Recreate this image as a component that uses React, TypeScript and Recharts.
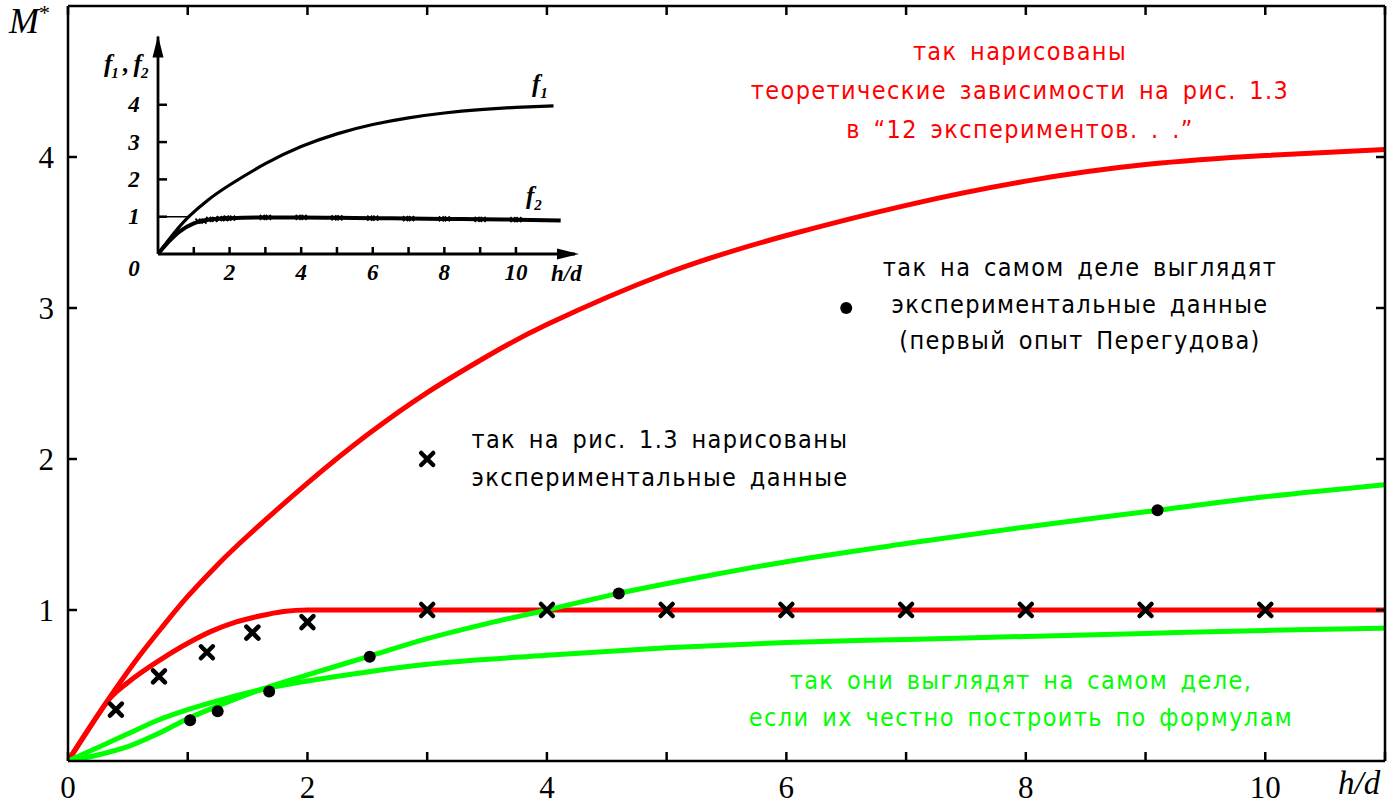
import React from 'react';
import { ComposedChart, LineChart, Line, Scatter, XAxis, YAxis, ReferenceDot } from 'recharts';

// ---- main chart: M* against h/d ----
const xTicks = [0, 1, 2, 3, 4, 5, 6, 7, 8, 9, 10, 11];
const yTicks = [1, 2, 3, 4];
const xMax = 11;
const yMax = 5;

// red: theoretical curves as drawn in fig. 1.3
const redF1 = [
  { x: 0, y: 0 }, { x: 0.2, y: 0.245 }, { x: 0.4, y: 0.48 }, { x: 0.6, y: 0.7 }, { x: 0.8, y: 0.9 },
  { x: 1, y: 1.09 }, { x: 1.25, y: 1.3 }, { x: 1.5, y: 1.49 }, { x: 2, y: 1.84 }, { x: 2.5, y: 2.16 },
  { x: 3, y: 2.44 }, { x: 3.5, y: 2.68 }, { x: 4, y: 2.89 }, { x: 5, y: 3.23 }, { x: 6, y: 3.48 },
  { x: 7, y: 3.68 }, { x: 8, y: 3.84 }, { x: 9, y: 3.95 }, { x: 10, y: 4.01 }, { x: 11, y: 4.05 },
];
const redF2 = [
  { x: 0, y: 0 }, { x: 0.2, y: 0.245 }, { x: 0.35, y: 0.415 }, { x: 0.5, y: 0.52 }, { x: 0.77, y: 0.67 },
  { x: 1, y: 0.78 }, { x: 1.2, y: 0.86 }, { x: 1.4, y: 0.92 }, { x: 1.6, y: 0.96 }, { x: 1.8, y: 0.99 },
  { x: 2, y: 1 }, { x: 3, y: 1 }, { x: 6, y: 1 }, { x: 11, y: 1 },
];

// green: the same formulas plotted honestly
const greenF1 = [
  { x: 0, y: 0 }, { x: 0.25, y: 0.04 }, { x: 0.5, y: 0.095 }, { x: 0.75, y: 0.18 }, { x: 1, y: 0.28 },
  { x: 1.3, y: 0.38 }, { x: 1.6, y: 0.47 }, { x: 2, y: 0.57 }, { x: 2.5, y: 0.69 }, { x: 3, y: 0.81 },
  { x: 3.5, y: 0.91 }, { x: 4, y: 1.0 }, { x: 4.6, y: 1.11 }, { x: 5.3, y: 1.22 }, { x: 6, y: 1.32 },
  { x: 7, y: 1.44 }, { x: 8, y: 1.55 }, { x: 9, y: 1.65 }, { x: 10, y: 1.75 }, { x: 11, y: 1.83 },
];
const greenF2 = [
  { x: 0, y: 0 }, { x: 0.25, y: 0.09 }, { x: 0.5, y: 0.18 }, { x: 0.75, y: 0.27 }, { x: 1, y: 0.34 },
  { x: 1.3, y: 0.41 }, { x: 1.6, y: 0.47 }, { x: 2, y: 0.53 }, { x: 2.5, y: 0.59 }, { x: 3, y: 0.64 },
  { x: 4, y: 0.7 }, { x: 5, y: 0.75 }, { x: 6, y: 0.785 }, { x: 7, y: 0.805 }, { x: 8, y: 0.825 },
  { x: 9, y: 0.845 }, { x: 10, y: 0.865 }, { x: 11, y: 0.88 },
];

// crosses: experimental data as drawn in fig. 1.3
const crosses = [
  { x: 0.4, y: 0.34 }, { x: 0.76, y: 0.56 }, { x: 1.16, y: 0.72 }, { x: 1.54, y: 0.85 }, { x: 2, y: 0.92 },
  { x: 3, y: 1 }, { x: 4, y: 1 }, { x: 5, y: 1 }, { x: 6, y: 1 }, { x: 7, y: 1 },
  { x: 8, y: 1 }, { x: 9, y: 1 }, { x: 10, y: 1 },
];
// dots: real experimental data (first Peregudov experiment)
const dots = [
  { x: 1.02, y: 0.27 }, { x: 1.25, y: 0.33 }, { x: 1.68, y: 0.46 }, { x: 2.52, y: 0.69 },
  { x: 4.6, y: 1.11 }, { x: 9.1, y: 1.66 },
];
// markers next to the captions
const crossKey = [{ x: 3, y: 2 }];
const dotKey = [{ x: 6.5, y: 3 }];

// ---- inset: scanned fig. 1.3 (f1, f2 against h/d) ----
const insetXTicks = [1, 2, 3, 4, 5, 6, 7, 8, 9, 10];
const insetYTicks = [0, 1, 2, 3, 4];
const insetXMax = 11.65;
const insetYMax = 5.83;
const insetF1 = [
  { x: 0, y: 0 }, { x: 0.4, y: 0.5 }, { x: 0.86, y: 1.0 }, { x: 1.4, y: 1.45 }, { x: 2, y: 1.85 },
  { x: 3, y: 2.42 }, { x: 4, y: 2.88 }, { x: 5, y: 3.22 }, { x: 6, y: 3.47 }, { x: 7, y: 3.65 },
  { x: 8, y: 3.78 }, { x: 9, y: 3.87 }, { x: 10, y: 3.93 }, { x: 11.05, y: 3.97 },
];
const insetF2 = [
  { x: 0, y: 0 }, { x: 0.3, y: 0.33 }, { x: 0.6, y: 0.6 }, { x: 1, y: 0.82 }, { x: 1.5, y: 0.93 },
  { x: 2, y: 0.96 }, { x: 3, y: 0.98 }, { x: 4, y: 0.98 }, { x: 5, y: 0.97 }, { x: 6, y: 0.96 },
  { x: 7, y: 0.95 }, { x: 8, y: 0.94 }, { x: 9, y: 0.93 }, { x: 10, y: 0.92 }, { x: 11.25, y: 0.9 },
];
const insetF2Marks = [
  { x: 1.2, y: 0.88 }, { x: 1.5, y: 0.93 }, { x: 1.8, y: 0.95 }, { x: 2, y: 0.96 }, { x: 3, y: 0.98 },
  { x: 4, y: 0.98 }, { x: 5, y: 0.97 }, { x: 6, y: 0.96 }, { x: 7, y: 0.95 }, { x: 8, y: 0.94 },
  { x: 9, y: 0.93 }, { x: 10, y: 0.92 },
];
const insetUnitLine = [{ x: 0, y: 1 }, { x: 0.86, y: 1 }];

const SANS = "'DejaVu Sans Condensed', 'DejaVu Sans', sans-serif";
const SERIF = "'Liberation Serif', 'DejaVu Serif', serif";
const RED = '#ff0000';
const GREEN = '#00ff00';

const BottomTick = (props: any) => {
  const { x, y, payload } = props;
  const v = payload.value;
  return (
    <g>
      <line x1={x} x2={x} y1={y} y2={y - 9} stroke="#000" strokeWidth={2.5} />
      {v % 2 === 0 && (
        <text x={x} y={y + 26} textAnchor="middle" dominantBaseline="central" fontFamily={SERIF} fontSize={31} fill="#000">
          {v}
        </text>
      )}
    </g>
  );
};

const TopTick = (props: any) => {
  const { x, y } = props;
  return <line x1={x} x2={x} y1={y} y2={y + 9} stroke="#000" strokeWidth={2.5} />;
};

const LeftTick = (props: any) => {
  const { x, y, payload } = props;
  return (
    <g>
      <line x1={x} x2={x + 9} y1={y} y2={y} stroke="#000" strokeWidth={2.5} />
      <text x={x - 14} y={y} textAnchor="end" dominantBaseline="central" fontFamily={SERIF} fontSize={31} fill="#000">
        {payload.value}
      </text>
    </g>
  );
};

const RightTick = (props: any) => {
  const { x, y } = props;
  return <line x1={x} x2={x - 9} y1={y} y2={y} stroke="#000" strokeWidth={2.5} />;
};

const CrossMark = (props: any) => {
  const { cx, cy } = props;
  const s = 6;
  return (
    <path
      d={`M${cx - s},${cy - s}L${cx + s},${cy + s}M${cx - s},${cy + s}L${cx + s},${cy - s}`}
      stroke="#000"
      strokeWidth={4.5}
      strokeLinecap="round"
      fill="none"
    />
  );
};

const DotMark = (props: any) => <circle cx={props.cx} cy={props.cy} r={6} fill="#000" />;

// inset pieces
const INSET_FONT = { fontFamily: SERIF, fontStyle: 'italic' as const, fontWeight: 700 };

const InsetXTick = (props: any) => {
  const { x, y, payload } = props;
  const v = payload.value;
  return (
    <g>
      <line x1={x} x2={x} y1={y} y2={y - 7} stroke="#000" strokeWidth={2.5} />
      {v % 2 === 0 && (
        <text x={x} y={y + 18} textAnchor="middle" dominantBaseline="central" fontSize={23} fill="#000" {...INSET_FONT}>
          {v}
        </text>
      )}
    </g>
  );
};

const InsetYTick = (props: any) => {
  const { x, y, payload } = props;
  const v = payload.value;
  return (
    <g>
      {v > 0 && <line x1={x} x2={x + 9} y1={y} y2={y} stroke="#000" strokeWidth={2.5} />}
      <text x={x - 24} y={v > 0 ? y : y + 14} textAnchor="middle" dominantBaseline="central" fontSize={23} fill="#000" {...INSET_FONT}>
        {v}
      </text>
    </g>
  );
};

const SmallCross = (props: any) => {
  const { cx, cy } = props;
  const s = 2.5;
  const d = [-3, 3]
    .map((o) => `M${cx + o - s},${cy - s}L${cx + o + s},${cy + s}M${cx + o - s},${cy + s}L${cx + o + s},${cy - s}`)
    .join('');
  return <path d={d} stroke="#000" strokeWidth={1.8} fill="none" />;
};

const ArrowRight = (props: any) => {
  const { cx, cy } = props;
  return <path d={`M${cx + 4},${cy}L${cx - 18},${cy - 5.5}L${cx - 18},${cy + 5.5}Z`} fill="#000" />;
};

const ArrowUp = (props: any) => {
  const { cx, cy } = props;
  return <path d={`M${cx},${cy - 1}L${cx - 5.5},${cy + 21}L${cx + 5.5},${cy + 21}Z`} fill="#000" />;
};

const Note = ({ lines, cx, top, color, lh }: { lines: string[]; cx: number; top: number; color: string; lh: number }) => (
  <div
    style={{
      position: 'absolute',
      left: cx - 350,
      width: 700,
      top,
      textAlign: 'center',
      color,
      fontFamily: SANS,
      fontStretch: 'condensed',
      fontSize: 25,
      letterSpacing: 1.4,
      wordSpacing: 4,
      lineHeight: `${lh}px`,
      whiteSpace: 'nowrap',
    }}
  >
    {lines.map((l, i) => (
      <div key={i}>{l}</div>
    ))}
  </div>
);

const sub = { fontSize: 15, verticalAlign: '-6px' };
const insetLabel = { position: 'absolute' as const, fontSize: 25, fontFamily: SERIF, fontStyle: 'italic' as const, fontWeight: 700 };

export default function App() {
  return (
    <div style={{ position: 'absolute', left: 0, top: 0, width: 1399, height: 807, background: '#fff', overflow: 'hidden' }}>
      <ComposedChart width={1399} height={807} margin={{ top: 5, right: 13, bottom: 0, left: 0 }}>
        <XAxis
          dataKey="x"
          type="number"
          domain={[0, xMax]}
          ticks={xTicks}
          allowDataOverflow
          height={46}
          tickSize={0}
          tickMargin={0}
          tickLine={false}
          axisLine={{ stroke: '#000', strokeWidth: 2.5 }}
          tick={<BottomTick />}
          interval={0}
        />
        <XAxis
          xAxisId="top"
          orientation="top"
          dataKey="x"
          type="number"
          domain={[0, xMax]}
          ticks={xTicks}
          allowDataOverflow
          height={1}
          tickSize={0}
          tickMargin={0}
          tickLine={false}
          axisLine={{ stroke: '#000', strokeWidth: 2.5 }}
          tick={<TopTick />}
          interval={0}
        />
        <YAxis
          dataKey="y"
          type="number"
          domain={[0, yMax]}
          ticks={yTicks}
          allowDataOverflow
          width={68}
          tickSize={0}
          tickMargin={0}
          tickLine={false}
          axisLine={{ stroke: '#000', strokeWidth: 2.5 }}
          tick={<LeftTick />}
          interval={0}
        />
        <YAxis
          yAxisId="right"
          orientation="right"
          type="number"
          domain={[0, yMax]}
          ticks={yTicks}
          allowDataOverflow
          width={1}
          tickSize={0}
          tickMargin={0}
          tickLine={false}
          axisLine={{ stroke: '#000', strokeWidth: 2.5 }}
          tick={<RightTick />}
          interval={0}
        />
        <Line data={redF1} dataKey="y" type="natural" stroke={RED} strokeWidth={5} dot={false} isAnimationActive={false} />
        <Line data={redF2} dataKey="y" type="monotone" stroke={RED} strokeWidth={5} dot={false} isAnimationActive={false} />
        <Line data={greenF1} dataKey="y" type="monotone" stroke={GREEN} strokeWidth={5} dot={false} isAnimationActive={false} />
        <Line data={greenF2} dataKey="y" type="monotone" stroke={GREEN} strokeWidth={5} dot={false} isAnimationActive={false} />
        <Scatter data={dots} shape={DotMark} isAnimationActive={false} />
        <Scatter data={dotKey} shape={DotMark} isAnimationActive={false} />
        <Scatter data={crosses} shape={CrossMark} isAnimationActive={false} />
        <Scatter data={crossKey} shape={CrossMark} isAnimationActive={false} />
      </ComposedChart>

      {/* inset copied from fig. 1.3 */}
      <div style={{ position: 'absolute', left: 100, top: 20 }}>
        <LineChart width={500} height={290} margin={{ top: 16.5, right: 25, bottom: 55, left: 57 }}>
          <XAxis
            dataKey="x"
            type="number"
            domain={[0, insetXMax]}
            ticks={insetXTicks}
            allowDataOverflow
            height={1}
            tickSize={0}
            tickMargin={0}
            tickLine={false}
            axisLine={{ stroke: '#000', strokeWidth: 2.8 }}
            tick={<InsetXTick />}
            interval={0}
          />
          <YAxis
            dataKey="y"
            type="number"
            domain={[0, insetYMax]}
            ticks={insetYTicks}
            allowDataOverflow
            width={1}
            tickSize={0}
            tickMargin={0}
            tickLine={false}
            axisLine={{ stroke: '#000', strokeWidth: 2.8 }}
            tick={<InsetYTick />}
            interval={0}
          />
          <Line data={insetUnitLine} dataKey="y" type="linear" stroke="#000" strokeWidth={1.5} dot={false} isAnimationActive={false} />
          <Line data={insetF1} dataKey="y" type="natural" stroke="#000" strokeWidth={3.2} dot={false} isAnimationActive={false} />
          <Line data={insetF2} dataKey="y" type="monotone" stroke="#000" strokeWidth={4} dot={false} isAnimationActive={false} />
          <Line data={insetF2Marks} dataKey="y" stroke="none" dot={<SmallCross />} isAnimationActive={false} />
          <ReferenceDot x={insetXMax} y={0} ifOverflow="visible" shape={<ArrowRight />} />
          <ReferenceDot x={0} y={insetYMax} ifOverflow="visible" shape={<ArrowUp />} />
        </LineChart>
      </div>

      {/* inset labels */}
      <div style={{ ...insetLabel, left: 104, top: 50, letterSpacing: -1 }}>
        f<span style={sub}>1</span> , f<span style={sub}>2</span>
      </div>
      <div style={{ ...insetLabel, left: 532, top: 70 }}>
        f<span style={sub}>1</span>
      </div>
      <div style={{ ...insetLabel, left: 526, top: 182 }}>
        f<span style={sub}>2</span>
      </div>
      <div style={{ ...insetLabel, fontSize: 23, left: 551, top: 261 }}>h/d</div>

      {/* axis titles */}
      <div style={{ position: 'absolute', left: 9, top: 0, fontSize: 36, fontFamily: SERIF, fontStyle: 'italic' }}>
        M<span style={{ fontStyle: 'normal', fontSize: 22, verticalAlign: '13px' }}>*</span>
      </div>
      <div style={{ position: 'absolute', left: 1338, top: 765, fontSize: 33, fontFamily: SERIF, fontStyle: 'italic' }}>
        h/d
      </div>

      {/* captions */}
      <Note
        lines={['так нарисованы', 'теоретические зависимости на рис. 1.3', 'в “12 экспериментов. . .”']}
        cx={1020}
        top={32}
        color={RED}
        lh={39}
      />
      <Note
        lines={['так на самом деле выглядят', 'экспериментальные данные', '(первый опыт Перегудова)']}
        cx={1080}
        top={250}
        color="#000"
        lh={36.5}
      />
      <Note lines={['так на рис. 1.3 нарисованы', 'экспериментальные данные']} cx={660} top={421} color="#000" lh={38} />
      <Note
        lines={['так они выглядят на самом деле,', 'если их честно построить по формулам']}
        cx={1021}
        top={661.5}
        color={GREEN}
        lh={37}
      />
    </div>
  );
}
